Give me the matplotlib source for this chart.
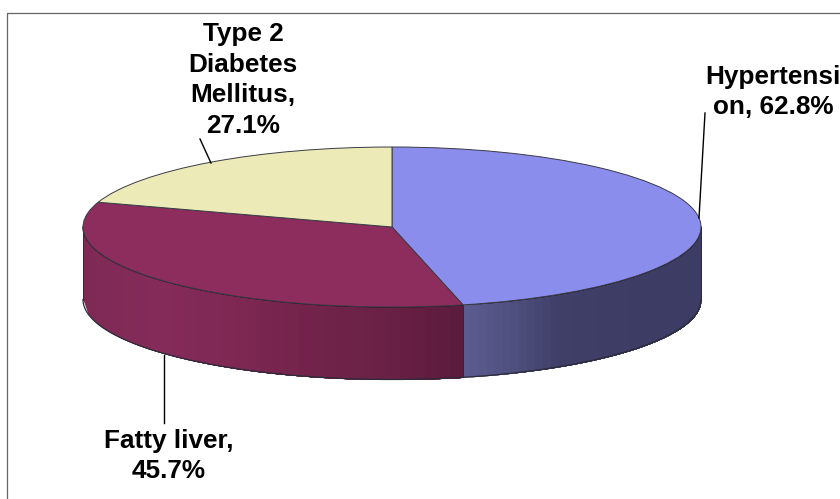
"""3D-style pie chart of comorbidity rates, drawn with a squashed ax.pie and banded side walls."""

import matplotlib

matplotlib.use("Agg")
import matplotlib.pyplot as plt
import numpy as np
from matplotlib.colors import to_rgb

plt.rcParams["font.family"] = ["Liberation Sans", "DejaVu Sans"]

categories = ["Hypertension", "Fatty liver", "Type 2 Diabetes Mellitus"]
percentages = [62.8, 45.7, 27.1]
labels = ["Hypertensi\non, 62.8%", "Fatty liver,\n45.7%", "Type 2\nDiabetes\nMellitus,\n27.1%"]
top_colors = ["#8b8ded", "#8c2d5d", "#ecebb8"]

# wall shading, left to right across each visible wall
maroon_wall = ["#7e2a55", "#842b59", "#7e2853", "#72234a", "#6a2146", "#5a1a3b"]
blue_wall = ["#5c5c92", "#50507f", "#3f3f68", "#3d3d65", "#3c3c64", "#3c3c64"]

WIDTH, HEIGHT = 840, 499
CX, CY = 392, 227  # pie centre, pixels
RX, RY = 309, 80  # ellipse radii, pixels
DEPTH = 72.5 / RY  # wall height in pie units
EDGE = "#2b2b3a"


def px(x, y):
    """Convert reference pixel coordinates to pie units."""
    return (x - CX) / RX, (CY - y) / RY


def draw_wall(ax, x_start, x_end, stops):
    """Fill the front wall between two x positions with stepped shading."""
    edges = np.linspace(x_start, x_end, 31)
    stop_rgb = np.array([to_rgb(c) for c in stops])
    stop_pos = np.linspace(0, 1, len(stops))
    for i in range(len(edges) - 1):
        pos = (i + 0.5) / (len(edges) - 1)
        color = [np.interp(pos, stop_pos, stop_rgb[:, k]) for k in range(3)]
        # run each band on to the wall's end so the next one paints over it, no seams
        xs = np.linspace(edges[i], x_end, 80)
        top = -np.sqrt(np.clip(1 - xs**2, 0, 1))
        ax.fill_between(xs, top, top - DEPTH, color=color, lw=0, zorder=1)


fig = plt.figure(figsize=(WIDTH / 100, HEIGHT / 100), dpi=100)
ax = fig.add_axes([0, 0, 1, 1])

shares = np.array(percentages) / sum(percentages)
ends = np.cumsum(shares) * 2 * np.pi
split_x = np.sin(ends[0])

draw_wall(ax, -1, split_x, maroon_wall)
draw_wall(ax, split_x, 1, blue_wall)

# outline of the walls
xs = np.sin(np.linspace(-np.pi / 2, np.pi / 2, 400))
front = -np.sqrt(1 - xs**2)
ax.plot(xs, front - DEPTH, color=EDGE, lw=0.9, zorder=2)
ax.plot(xs, front, color="#15101c", lw=0.9, zorder=2)
for x0 in (-1, split_x, 1):
    y0 = -np.sqrt(max(1 - x0**2, 0))
    ax.plot([x0, x0], [y0, y0 - DEPTH], color=EDGE, lw=0.7, zorder=2)

ax.pie(
    percentages,
    colors=top_colors,
    startangle=90,
    counterclock=False,
    radius=1,
    wedgeprops={"edgecolor": "#3a3a44", "linewidth": 0.7, "zorder": 3},
)
ax.set_aspect("auto")
ax.set_xlim(px(0, 0)[0], px(WIDTH, 0)[0])
ax.set_ylim(px(0, HEIGHT)[1], px(0, 0)[1])
ax.axis("off")

# chart frame, only the top and left edges fall inside the picture
ax.plot(*zip(px(7.5, HEIGHT), px(7.5, 12.5), px(WIDTH, 12.5)), color="#666666", lw=0.9,
        zorder=1, clip_on=False)

# leader lines
leaders = [((705, 113), (699, 218)), ((164, 423), (164, 355)), ((200, 139), (211, 163))]
for start, end in leaders:
    ax.plot(*zip(px(*start), px(*end)), color="black", lw=1.0, zorder=4)

label_centres = [(773, 92), (169, 456), (243, 80)]
for text, (x, y) in zip(labels, label_centres):
    tx, ty = px(x, y)
    ax.text(tx, ty, text, ha="center", va="center", ma="center", fontsize=18.8,
            fontweight="bold", color="black", linespacing=1.35, zorder=5)

fig.savefig("out.png", dpi=100)
plt.close(fig)
